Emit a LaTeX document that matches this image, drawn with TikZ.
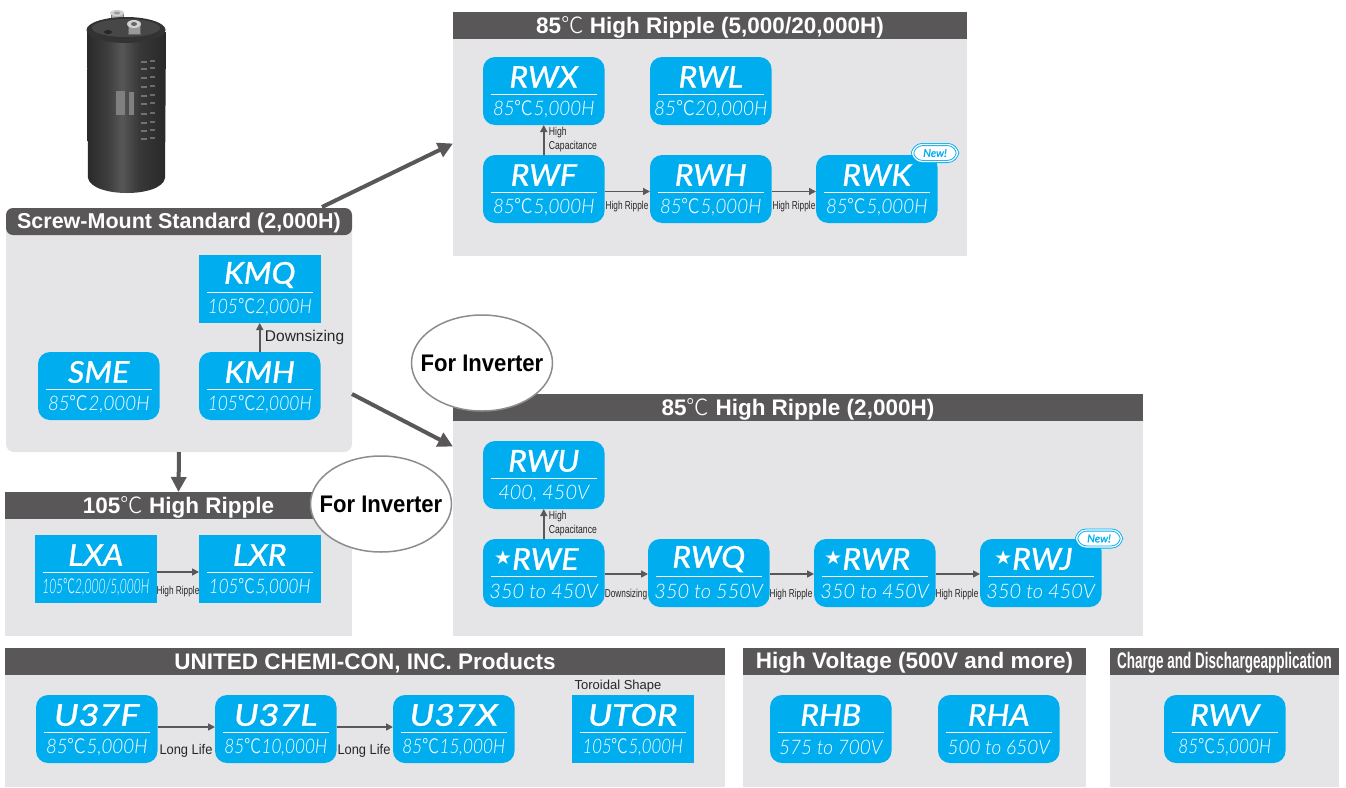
\documentclass[tikz,border=0pt]{standalone}
\usepackage{fontspec}
\usetikzlibrary{arrows.meta,calc,shapes.geometric}
\setmainfont{Liberation Sans}
\newfontfamily\cjkfont{Noto Sans CJK SC Light}
\newfontfamily\subfont{Lato Light Italic}
\newfontfamily\titlefont[FakeBold=1]{Lato Italic}
\newfontfamily\symfont{DejaVu Sans}
\newcommand{\degH}{{\mdseries\cjkfont ℃}}
\newcommand{\degI}{{\mdseries\cjkfont\fontsize{20}{20}\selectfont ℃}}
\newcommand{\starmark}{\raisebox{5pt}{\symfont\fontsize{19}{19}\selectfont ★}}
\definecolor{cblue}{HTML}{00AEEF}
\definecolor{cpanel}{HTML}{E5E5E8}
\definecolor{chead}{HTML}{595757}
\tikzset{
  prodbox/.style={fill=cblue,minimum width=121.5pt,minimum height=68pt,inner sep=0pt,outer sep=0pt},
  rnd/.style={rounded corners=12pt},
  titletext/.style={text=white,inner sep=0pt,font=\titlefont\fontsize{30}{30}\selectfont},
  subtext/.style={text=white,inner sep=0pt,font=\subfont\fontsize{20}{20}\selectfont},
  headbox/.style={fill=chead,inner sep=0pt,outer sep=0pt},
  headtext/.style={text=white,inner sep=0pt,font=\bfseries\fontsize{22.5}{22.5}\selectfont},
  panelbody/.style={fill=cpanel,inner sep=0pt,outer sep=0pt},
  flow/.style={draw=chead,line width=1.5pt,-{Triangle[width=7pt,length=7pt]},shorten >=0pt},
  thick arrow/.style={draw=chead,line width=4pt,-{Triangle[width=15pt,length=15pt]}},
  small label/.style={text=black!85,inner sep=0pt,font=\fontsize{11.5}{13}\selectfont},
  mid label/.style={text=black!85,inner sep=0pt,font=\fontsize{14}{14}\selectfont},
  inv/.style={draw=black!45,line width=1.5pt,fill=white,ellipse,minimum width=141pt,minimum height=96pt,inner sep=0pt},
  invtext/.style={inner sep=0pt,text=black,font=\bfseries\fontsize{24}{24}\selectfont},
  newbadge/.style={rounded corners=10pt,fill=white,draw=cblue,double=white,double distance=1.2pt,line width=0.9pt,minimum width=45pt,minimum height=17pt,inner sep=0pt,text=cblue,font=\titlefont\fontsize{11}{11}\selectfont}
}
% style, name, x, y, title, sub, sub xscale
\newcommand{\prodnode}[7]{%
  \node[prodbox,#1,anchor=north west] (#2) at (#3,#4) {};
  \node[titletext] (#2-t) at ([yshift=-20pt]#2.north) {\scalebox{1.07}[1]{#5}};
  \draw[white,line width=1.1pt] ([xshift=8pt,yshift=-37.5pt]#2.north west) -- ([xshift=-8pt,yshift=-37.5pt]#2.north east);
  \node[subtext] (#2-s) at ([yshift=-52.5pt]#2.north) {\scalebox{#7}[1]{#6}};
}
% name, x1, x2, ytop, yhead, ybot, title
\newcommand{\panelnode}[7]{%
  \pgfmathsetmacro{\pw}{#3-#2}\pgfmathsetmacro{\hh}{#5-#4}\pgfmathsetmacro{\bh}{#6-#5}%
  \node[panelbody,anchor=north west,minimum width=\pw pt,minimum height=\bh pt] (#1) at (#2,#5) {};
  \node[headbox,anchor=north west,minimum width=\pw pt,minimum height=\hh pt] (#1-h) at (#2,#4) {};
  \node[headtext] (#1-l) at ([yshift=-1.5pt]#1-h.center) {#7};
}
\begin{document}
\begin{tikzpicture}[x=1pt,y=-1pt]
\useasboundingbox (0,0) rectangle (1346,787);
\pgfdeclarehorizontalshading{capshade}{100bp}{
 color(0bp)=(black!84); color(25bp)=(black!84); color(38bp)=(black!76); color(47bp)=(black!66); color(58bp)=(black!78); color(75bp)=(black!84); color(100bp)=(black!80)}

% capacitor
\draw[black!55,fill=black!30,line width=0.5pt] (111,14) rectangle (123,25);
\fill[black!18] (117,13) ellipse (7 and 3);
\shade[shading=capshade] (87,32) -- (88,178) .. controls (92,198) and (162,198) .. (165,178) -- (166,32) -- cycle;
\fill[black!80] (126,30) ellipse (39.5 and 13);
\fill[black!72] (126,28) ellipse (34 and 9);
\fill[black!85] (108,32) ellipse (4 and 2);
\draw[black!60,fill=black!40,line width=0.5pt] (128,24) rectangle (140,34);
\fill[black!18] (134,24) ellipse (7 and 4);
\fill[black!60] (134,24) ellipse (3 and 2);
\fill[black!40] (117,13) ellipse (3 and 1.5);
\foreach \yy in {62,69,78,87,96,104,114,123,131,139}{
  \fill[black!55] (141,\yy-1) rectangle (147,\yy+1);
  \fill[black!58] (150,\yy-2) rectangle (155,\yy);
}
\fill[black!50] (116,91) rectangle (125,115);
\fill[black!50] (129,92) rectangle (134,115);

% panels
\panelnode{hr85a}{453}{967}{12}{39}{256}{85\degH\ High Ripple (5,000/20,000H)}
\panelnode{hr85b}{453}{1143}{394}{421}{636}{85\degH\ High Ripple (2,000H)}
\panelnode{hr105}{5}{352}{492}{519}{636}{105\degH\ High Ripple}
\panelnode{uccp}{5}{725}{648}{675}{787}{UNITED CHEMI-CON, INC. Products}
\panelnode{hv}{743}{1086}{648}{675}{787}{High Voltage (500V and more)}
\panelnode{chg}{1110}{1339}{648}{675}{787}{\scalebox{0.6}[1]{Charge and Dischargeapplication}}

% screw-mount panel
\node[fill=cpanel,rounded corners=8pt,inner sep=0pt,outer sep=0pt,minimum width=346pt,minimum height=234pt,anchor=north west] (screw) at (6,218) {};
\node[fill=chead,rounded corners=7pt,inner sep=0pt,outer sep=0pt,minimum width=346pt,minimum height=27pt,anchor=north west] (screw-h) at (6,208) {};
\node[headtext,font=\bfseries\fontsize{21.5}{21.5}\selectfont] (screw-l) at ([yshift=-1.5pt]screw-h.center) {Screw-Mount Standard (2,000H)};

% thick connectors
\draw[thick arrow] ([xshift=-30pt,yshift=1pt]screw-h.north east) -- ([yshift=4pt]hr85a.west);
\draw[thick arrow] ([yshift=-59pt]screw.east) -- ([yshift=82pt]hr85b.west);
\draw[thick arrow] (screw.south) -- (hr105-h.north);

% products: 85C 5000/20000
\prodnode{rnd}{rwx}{483}{57}{RWX}{85\degI5,000H}{0.94}
\prodnode{rnd}{rwl}{650}{57}{RWL}{85\degI20,000H}{0.95}
\prodnode{rnd}{rwf}{483}{155}{RWF}{85\degI5,000H}{0.94}
\prodnode{rnd}{rwh}{650}{155}{RWH}{85\degI5,000H}{0.94}
\prodnode{rnd}{rwk}{816}{155}{RWK}{85\degI5,000H}{0.94}
\node[newbadge] (newk) at (935,153) {New!};
\draw[flow] (rwf.north) -- (rwx.south);
\draw[flow] ([yshift=-2.5pt]rwf.east) -- ([yshift=-2.5pt]rwh.west);
\draw[flow] ([yshift=-2.5pt]rwh.east) -- ([yshift=-2.5pt]rwk.west);
\node[small label,anchor=west,align=left] (lb1) at ([xshift=5pt,yshift=-14.5pt]rwx.south) {\scalebox{0.75}[1]{High}\\[1pt]\scalebox{0.75}[1]{Capacitance}};
\node[small label] (lb2) at (627,207) {\scalebox{0.72}[1]{High Ripple}};
\node[small label] (lb3) at (794,207) {\scalebox{0.72}[1]{High Ripple}};

% screw-mount products
\prodnode{}{kmq}{199}{255}{KMQ}{105\degI2,000H}{0.87}
\prodnode{rnd}{kmh}{199}{352}{KMH}{105\degI2,000H}{0.87}
\prodnode{rnd}{sme}{38}{352}{SME}{85\degI2,000H}{0.94}
\draw[flow] (kmh.north) -- (kmq.south);
\node[mid label,anchor=west,font=\fontsize{15.5}{15.5}\selectfont] (lb4) at ([xshift=5pt,yshift=-14pt]kmq.south) {Downsizing};

% 105C
\prodnode{}{lxa}{35}{535}{LXA}{105\degI2,000/5,000H}{0.6}
\prodnode{}{lxr}{199}{535}{LXR}{105\degI5,000H}{0.85}
\draw[flow] ([yshift=-3pt]lxa.east) -- ([yshift=-3pt]lxr.west);
\node[small label] (lb5) at (178,592) {\scalebox{0.72}[1]{High Ripple}};

% 85C 2000
\prodnode{rnd}{rwu}{483}{441}{RWU}{400, 450V}{1}
\prodnode{rnd}{rwe}{483}{539}{\starmark RWE\kern14pt}{350 to 450V}{1}
\prodnode{rnd}{rwq}{648}{539}{RWQ}{350 to 550V}{1}
\prodnode{rnd}{rwr}{814}{539}{\starmark RWR\kern14pt}{350 to 450V}{1}
\prodnode{rnd}{rwj}{980}{539}{\starmark RWJ\kern14pt}{350 to 450V}{1}
\node[newbadge] (newj) at (1099,538.5) {New!};
\draw[flow] (rwe.north) -- (rwu.south);
\draw[flow] ([yshift=-1pt]rwe.east) -- ([yshift=-1pt]rwq.west);
\draw[flow] ([yshift=-1pt]rwq.east) -- ([yshift=-1pt]rwr.west);
\draw[flow] ([yshift=-1pt]rwr.east) -- ([yshift=-1pt]rwj.west);
\node[small label,anchor=west,align=left] (lb6) at ([xshift=5pt,yshift=-15pt]rwu.south) {\scalebox{0.75}[1]{High}\\[1pt]\scalebox{0.75}[1]{Capacitance}};
\node[small label] (lb7) at (626,595) {\scalebox{0.72}[1]{Downsizing}};
\node[small label] (lb8) at (791,595) {\scalebox{0.72}[1]{High Ripple}};
\node[small label] (lb9) at (957,595) {\scalebox{0.72}[1]{High Ripple}};

% UCC
\prodnode{rnd}{ua}{36}{695}{\scalebox{1.12}[1]{U37F}}{85\degI5,000H}{0.94}
\prodnode{rnd}{ub}{215}{695}{\scalebox{1.12}[1]{U37L}}{85\degI10,000H}{0.86}
\prodnode{rnd}{uc}{393}{695}{\scalebox{1.12}[1]{U37X}}{85\degI15,000H}{0.86}
\prodnode{}{ud}{572}{695}{\scalebox{1.1}[1]{UTOR}}{105\degI5,000H}{0.84}
\draw[flow] ([yshift=2pt]ua.east) -- ([yshift=2pt]ub.west);
\draw[flow] ([yshift=2pt]ub.east) -- ([yshift=2pt]uc.west);
\node[mid label] (lb10) at (186,751) {\scalebox{0.92}[1]{Long Life}};
\node[mid label] (lb11) at (364,751) {\scalebox{0.92}[1]{Long Life}};
\node[small label,font=\fontsize{13}{13}\selectfont] (lb12) at (618,686) {Toroidal Shape};

% HV, charge
\prodnode{rnd}{rhb}{770}{695}{RHB}{575 to 700V}{0.95}
\prodnode{rnd}{rha}{938}{695}{RHA}{500 to 650V}{0.95}
\prodnode{rnd}{rwv}{1164}{695}{RWV}{85\degI5,000H}{0.86}

% inverter ellipses
\node[inv] (inv1) at (482,363) {};
\node[invtext] (inv1-t) at (inv1.center) {\scalebox{0.92}[1]{For Inverter}};
\node[inv] (inv2) at (381,504) {};
\node[invtext] (inv2-t) at (inv2.center) {\scalebox{0.92}[1]{For Inverter}};
\end{tikzpicture}
\end{document}
